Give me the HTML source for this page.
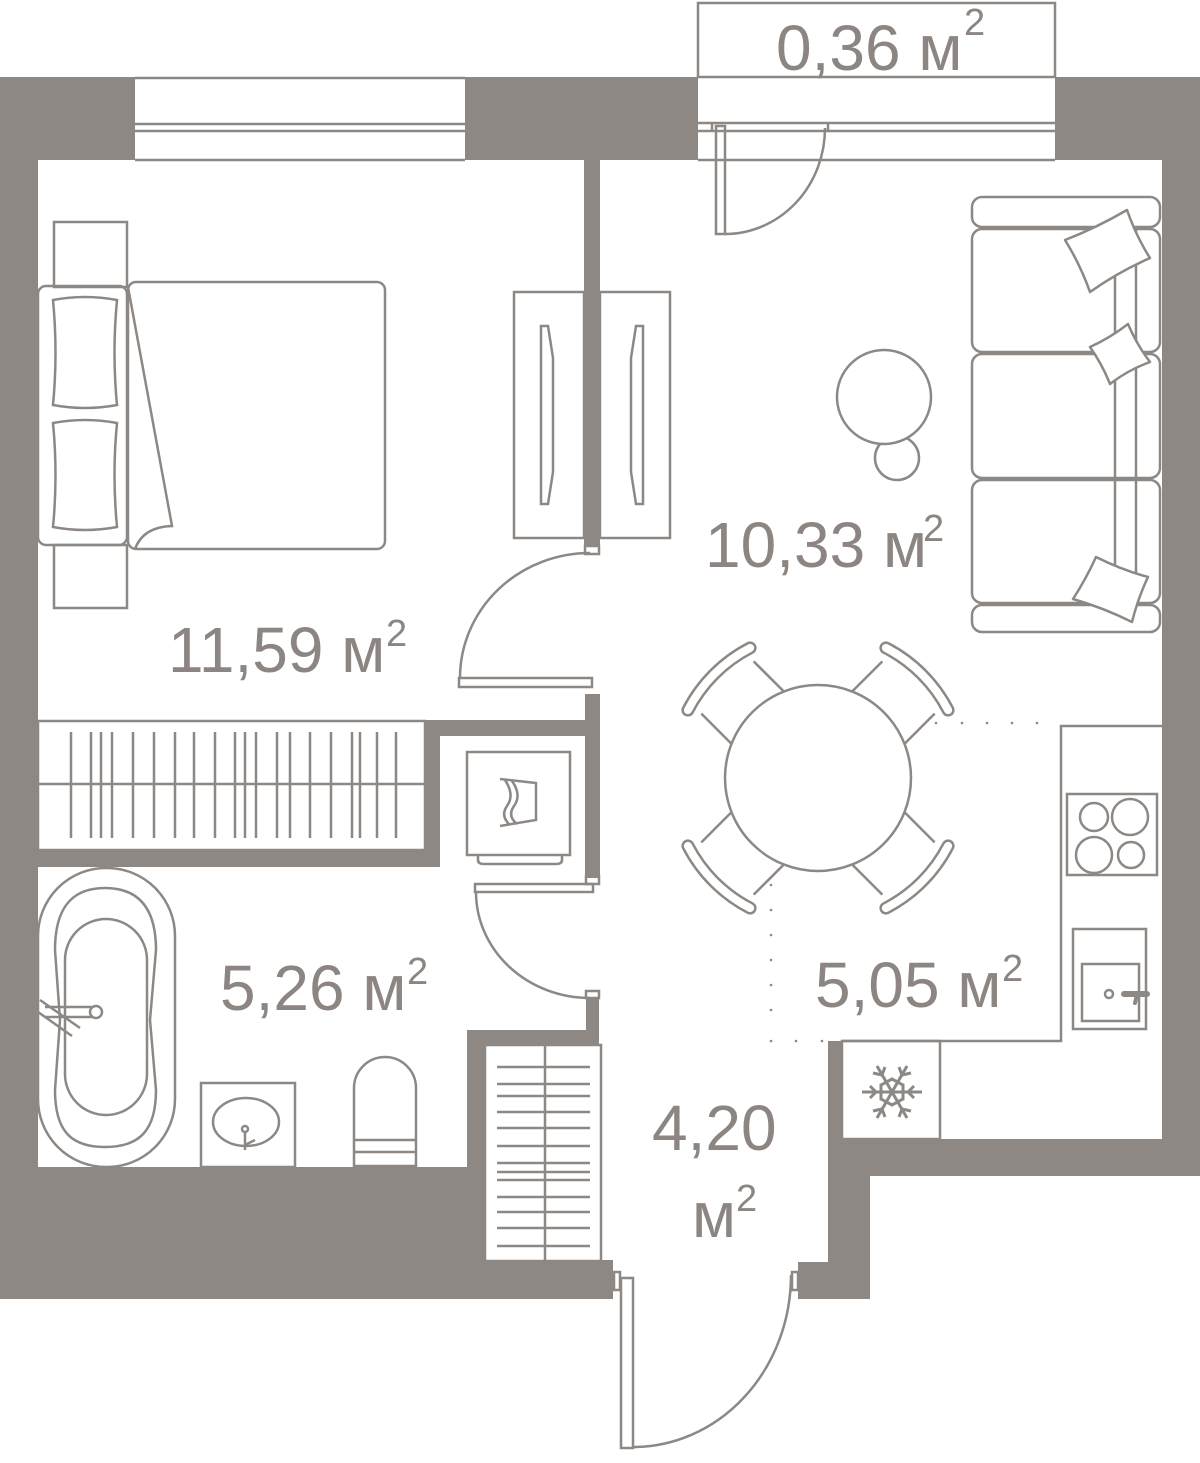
<!DOCTYPE html>
<html><head><meta charset="utf-8"><style>
html,body{margin:0;padding:0;background:#fff;}
svg{display:block;}
text{font-family:"Liberation Sans",sans-serif;fill:#8c8581;}
</style></head><body>
<svg width="1200" height="1463" viewBox="0 0 1200 1463" xmlns="http://www.w3.org/2000/svg">
<defs>
  <g id="ch" fill="none" stroke="#8e8884" stroke-width="2.5">
    <line x1="904" y1="741" x2="946" y2="741"/>
    <line x1="904" y1="815" x2="946" y2="815"/>
    <path d="M958 734 A145 145 0 0 1 958 822" stroke-width="13" stroke-linecap="round"/>
    <path d="M958 734 A145 145 0 0 1 958 822" stroke="#fff" stroke-width="8" stroke-linecap="round"/>
  </g>
</defs>
<g fill="#8e8884" stroke="none">
  <rect x="0" y="77" width="135" height="83"/>
  <rect x="465" y="77" width="233" height="83"/>
  <rect x="1055" y="77" width="145" height="83"/>
  <rect x="0" y="77" width="38" height="1222"/>
  <rect x="1162" y="77" width="38" height="1099"/>
  <rect x="0" y="1167" width="485" height="132"/>
  <rect x="485" y="1260" width="128" height="39"/>
  <rect x="467" y="1030" width="18" height="140"/>
  <rect x="467" y="1030" width="132" height="15"/>
  <rect x="586" y="998" width="13" height="47"/>
  <rect x="584" y="160" width="16" height="385"/>
  <rect x="38" y="850" width="402" height="17"/>
  <rect x="425" y="720" width="15" height="147"/>
  <rect x="425" y="720" width="175" height="16"/>
  <rect x="585" y="694" width="15" height="184"/>
  <rect x="828" y="1041" width="14" height="258"/>
  <rect x="828" y="1139" width="372" height="37"/>
  <rect x="828" y="1139" width="42" height="160"/>
  <rect x="798" y="1262" width="72" height="37"/>
</g>
<g fill="none" stroke="#8e8884" stroke-width="2.5">
  <line x1="135" y1="78" x2="465" y2="78"/>
  <line x1="135" y1="124" x2="465" y2="124"/>
  <line x1="135" y1="131" x2="465" y2="131"/>
  <line x1="135" y1="160" x2="465" y2="160"/>
  <rect x="698" y="3" width="357" height="74"/>
  <line x1="698" y1="123" x2="1055" y2="123"/>
  <line x1="698" y1="131" x2="1055" y2="131"/>
  <line x1="698" y1="160" x2="1055" y2="160"/>
  <rect x="716" y="126" width="9" height="108"/>
  <path d="M725 234 A100 106 0 0 0 825 128"/>
  <line x1="712" y1="124" x2="712" y2="131"/>
  <line x1="828" y1="124" x2="828" y2="131"/>
  <rect x="54" y="222" width="73" height="65"/>
  <rect x="54" y="545" width="73" height="63"/>
  <rect x="38" y="286" width="89" height="259" rx="8"/>
  <path d="M53 300 Q85 294 117 300 Q112 353 117 405 Q85 411 53 405 Q58 353 53 300Z"/>
  <path d="M53 423 Q85 417 117 423 Q112 475 117 527 Q85 533 53 527 Q58 475 53 423Z"/>
  <rect x="128" y="282" width="257" height="267" rx="8"/>
  <path d="M128 287 L172 526 Q143 527 135 549"/>
  <rect x="514" y="292" width="70" height="246"/>
  <rect x="600" y="292" width="70" height="246"/>
  <path d="M541 326 L548 326 L553 358 L553 472 L548 504 L541 504 Z"/>
  <path d="M643 326 L636 326 L631 358 L631 472 L636 504 L643 504 Z"/>
  <rect x="459" y="678" width="133" height="9"/>
  <rect x="585" y="546" width="14" height="8"/>
  <path d="M460 678 A130 125 0 0 1 590 553"/>
  <rect x="38" y="721" width="387" height="129"/>
  <line x1="38" y1="784" x2="425" y2="784"/>
</g>
<g stroke="#8e8884" stroke-width="2.5">
  <line x1="71" y1="732" x2="71" y2="838"/><line x1="91" y1="732" x2="91" y2="838"/><line x1="101" y1="732" x2="101" y2="838"/><line x1="112" y1="732" x2="112" y2="838"/><line x1="133" y1="732" x2="133" y2="838"/><line x1="154" y1="732" x2="154" y2="838"/><line x1="175" y1="732" x2="175" y2="838"/><line x1="194" y1="732" x2="194" y2="838"/><line x1="215" y1="732" x2="215" y2="838"/><line x1="235" y1="732" x2="235" y2="838"/><line x1="245" y1="732" x2="245" y2="838"/><line x1="256" y1="732" x2="256" y2="838"/><line x1="277" y1="732" x2="277" y2="838"/><line x1="290" y1="732" x2="290" y2="838"/><line x1="310" y1="732" x2="310" y2="838"/><line x1="331" y1="732" x2="331" y2="838"/><line x1="352" y1="732" x2="352" y2="838"/><line x1="360" y1="732" x2="360" y2="838"/><line x1="377" y1="732" x2="377" y2="838"/><line x1="396" y1="732" x2="396" y2="838"/>
</g>
<g fill="none" stroke="#8e8884" stroke-width="2.5">
  <rect x="467" y="752" width="103" height="103"/>
  <path d="M478 855 L478 860 Q478 864 484 864 L556 864 Q562 864 562 860 L562 855"/>
  <path d="M500 779 L536 783 L536 820 L500 826"/>
  <path d="M505 780 Q515 795 507 806 Q500 816 510 825"/>
  <path d="M512 781 Q522 795 514 806 Q507 816 517 824"/>
  <rect x="475" y="884" width="118" height="8"/>
  <rect x="586" y="876" width="13" height="8"/>
  <path d="M476 892 A114 106 0 0 0 590 998"/>
  <rect x="586" y="991" width="13" height="7"/>
  <rect x="38" y="868" width="137" height="299" rx="68"/>
  <path d="M105 888 C140 888 156 910 156 950 L150 1020 L156 1090 C156 1130 140 1147 105 1147 C70 1147 55 1130 55 1090 L60 1020 L55 950 C55 910 70 888 105 888Z"/>
  <rect x="65" y="919" width="82" height="196" rx="41"/>
  <path d="M45 1007 L92 1007 M45 1017 L92 1017"/>
  <circle cx="96" cy="1012" r="6"/>
  <path d="M40 1000 L80 1028 M38 1012 L72 1036"/>
  <rect x="201" y="1083" width="94" height="84"/>
  <ellipse cx="246" cy="1122" rx="33" ry="24"/>
  <circle cx="245" cy="1129" r="3"/>
  <path d="M245 1132 L245 1150 M245 1145 L255 1140"/>
  <path d="M354 1166 L354 1088 A31 31 0 0 1 416 1088 L416 1166 Z"/>
  <line x1="354" y1="1140" x2="416" y2="1140"/>
  <line x1="354" y1="1152" x2="416" y2="1152"/>
  <rect x="485" y="1045" width="116" height="216"/>
  <line x1="545" y1="1045" x2="545" y2="1261"/>
</g>
<g stroke="#8e8884" stroke-width="2.5">
  <line x1="497" y1="1067" x2="590" y2="1067"/><line x1="497" y1="1084" x2="590" y2="1084"/><line x1="497" y1="1096" x2="590" y2="1096"/><line x1="497" y1="1112" x2="590" y2="1112"/><line x1="497" y1="1128" x2="590" y2="1128"/><line x1="497" y1="1146" x2="590" y2="1146"/><line x1="497" y1="1163" x2="590" y2="1163"/><line x1="497" y1="1172" x2="590" y2="1172"/><line x1="497" y1="1180" x2="590" y2="1180"/><line x1="497" y1="1197" x2="590" y2="1197"/><line x1="497" y1="1212" x2="590" y2="1212"/><line x1="497" y1="1228" x2="590" y2="1228"/><line x1="497" y1="1246" x2="590" y2="1246"/>
</g>
<g fill="none" stroke="#8e8884" stroke-width="2.5">
  <rect x="614" y="1272" width="6" height="18"/>
  <rect x="792" y="1272" width="6" height="18"/>
  <rect x="621" y="1278" width="12" height="170"/>
  <path d="M633 1447 A158 172 0 0 0 791 1275"/>
  <rect x="972" y="197" width="188" height="30" rx="10"/>
  <rect x="972" y="229" width="188" height="123" rx="10"/>
  <rect x="972" y="354" width="188" height="124" rx="10"/>
  <rect x="972" y="480" width="188" height="123" rx="10"/>
  <rect x="972" y="605" width="188" height="27" rx="10"/>
  <line x1="1115" y1="229" x2="1115" y2="603"/>
  <line x1="1136" y1="229" x2="1136" y2="603"/>
  <path d="M1065 240 Q1096 228 1127 210 Q1136 236 1150 258 Q1118 272 1090 292 Q1080 264 1065 240 Z" fill="#fff" stroke-linejoin="round"/>
  <path d="M1090 347 Q1110 338 1128 324 Q1137 345 1150 362 Q1128 370 1110 384 Q1102 364 1090 347 Z" fill="#fff" stroke-linejoin="round"/>
  <path d="M1096 557 Q1122 570 1148 577 Q1138 598 1132 622 Q1104 608 1073 599 Q1086 579 1096 557 Z" fill="#fff" stroke-linejoin="round"/>
  <circle cx="897" cy="458" r="22" fill="#fff"/>
  <circle cx="884" cy="397" r="47" fill="#fff"/>
</g>
<use href="#ch" transform="rotate(-45 818 778)"/>
<use href="#ch" transform="rotate(45 818 778)"/>
<use href="#ch" transform="rotate(135 818 778)"/>
<use href="#ch" transform="rotate(-135 818 778)"/>
<g fill="none" stroke="#8e8884" stroke-width="2.5">
  <circle cx="818" cy="778" r="93" fill="#fff"/>
  <path d="M1162 726 L1061 726 L1061 1041 L842 1041"/>
  <rect x="1067" y="794" width="90" height="81"/>
  <circle cx="1094" cy="817" r="14"/>
  <circle cx="1130" cy="817" r="18"/>
  <circle cx="1094" cy="855" r="18"/>
  <circle cx="1131" cy="855" r="13"/>
  <rect x="1073" y="929" width="73" height="100"/>
  <rect x="1082" y="964" width="57" height="57"/>
  <circle cx="1109" cy="994" r="4"/>
  <path d="M1124 994 L1147 994" stroke-width="6" stroke-linecap="round"/>
  <line x1="1137" y1="994" x2="1135" y2="1003" stroke-width="4" stroke-linecap="round"/>
  <rect x="842" y="1041" width="98" height="98"/>
  <g stroke-width="3">
    <line x1="862" y1="1092" x2="922" y2="1092"/>
    <line x1="877" y1="1066" x2="907" y2="1118"/>
    <line x1="907" y1="1066" x2="877" y2="1118"/>
    <path d="M870 1086 L876 1092 L870 1098 M914 1086 L908 1092 L914 1098"/>
    <path d="M873 1073 L882 1075 L885 1067 M911 1073 L902 1075 L899 1067"/>
    <path d="M873 1111 L882 1109 L885 1117 M911 1111 L902 1109 L899 1117"/>
    <path d="M892 1079 L903 1085 L903 1099 L892 1105 L881 1099 L881 1085 Z"/>
  </g>
</g>
<g fill="#8e8884">
  <circle cx="936" cy="723" r="1.3"/><circle cx="962" cy="723" r="1.3"/><circle cx="987" cy="723" r="1.3"/><circle cx="1012" cy="723" r="1.3"/><circle cx="1037" cy="723" r="1.3"/>
  <circle cx="771" cy="885" r="1.3"/><circle cx="771" cy="910" r="1.3"/><circle cx="771" cy="935" r="1.3"/><circle cx="771" cy="960" r="1.3"/><circle cx="771" cy="985" r="1.3"/><circle cx="771" cy="1010" r="1.3"/><circle cx="771" cy="1041" r="1.3"/>
  <circle cx="796" cy="1041" r="1.3"/><circle cx="822" cy="1041" r="1.3"/>
</g>
<g font-size="64">
  <text x="168" y="672">11,59 м</text><text x="386" y="646" font-size="38">2</text>
  <text x="705" y="567">10,33 м</text><text x="923" y="541" font-size="38">2</text>
  <text x="220" y="1010">5,26 м</text><text x="407" y="984" font-size="38">2</text>
  <text x="815" y="1007">5,05 м</text><text x="1002" y="981" font-size="38">2</text>
  <text x="652" y="1150">4,20</text>
  <text x="692" y="1237">м</text><text x="736" y="1211" font-size="38">2</text>
  <text x="776" y="70">0,36 м</text><text x="964" y="35" font-size="38">2</text>
</g>
</svg>
</body></html>
